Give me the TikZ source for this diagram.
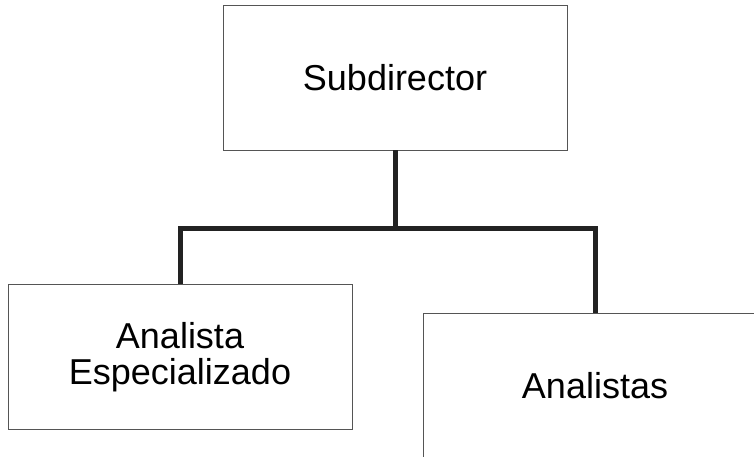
\documentclass[tikz,border=0pt]{standalone}
\usepackage{fontspec}
\setmainfont{Liberation Sans}
\usetikzlibrary{positioning}
\definecolor{boxLine}{HTML}{555555}
\definecolor{linkLine}{HTML}{222222}
\tikzset{org-box/.style={draw=boxLine, line width=0.9pt, minimum width=344pt, minimum height=145pt,
    inner sep=0, align=center, font=\fontsize{36}{36}\selectfont}}
\tikzset{org-line/.style={draw=linkLine, line width=5pt}}
\begin{document}
\begin{tikzpicture}[x=1pt, y=-1pt]
    \useasboundingbox (0,0) rectangle (754,456);
    \clip (0,0) rectangle (754,456);
    \node[org-box] (sub) at (395,77.5) {Subdirector};
    \node[org-box] (esp) at (180,357) {Analista\\Especializado};
    \node[org-box] (ana) at (595,386) {Analistas};

    \coordinate (split) at (395,228);
    \draw[org-line] (sub.south) -- (split);
    \draw[org-line] (split) -| (esp.north);
    \draw[org-line] (split) -| (ana.north);
\end{tikzpicture}
\end{document}
